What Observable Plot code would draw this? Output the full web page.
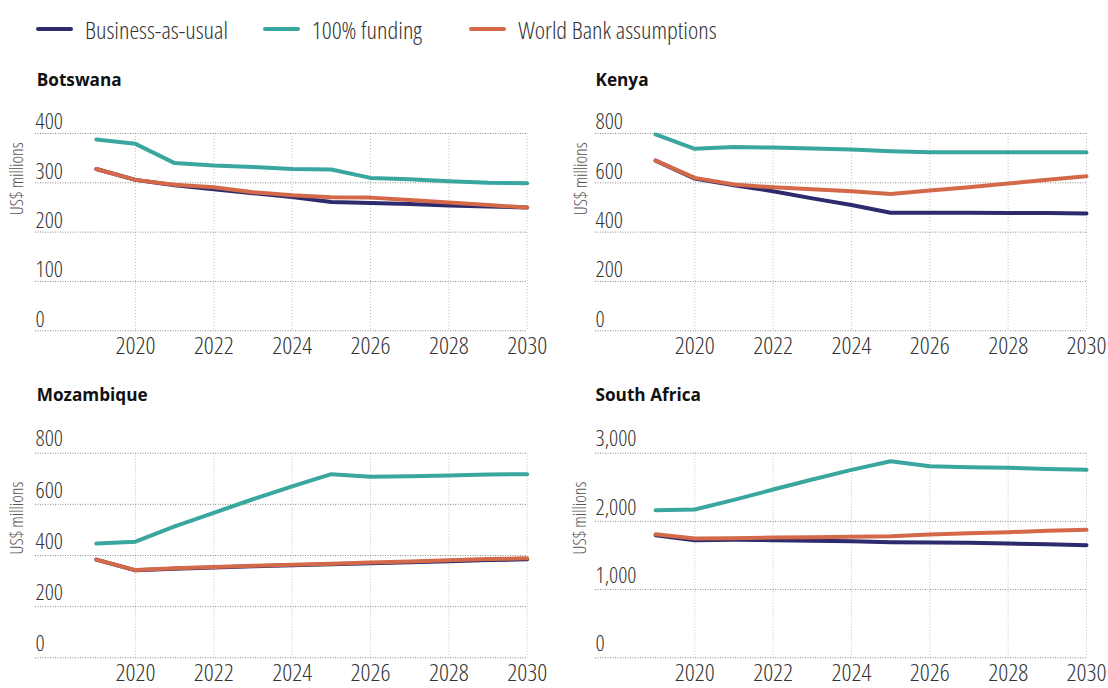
<!DOCTYPE html>
<html><head><meta charset="utf-8">
<script src="https://cdn.jsdelivr.net/npm/d3@7"></script>
<script src="https://cdn.jsdelivr.net/npm/@observablehq/plot@0.6"></script>
<style>
body{margin:0;background:#fff;font-family:"Open Sans",Roboto,sans-serif;width:1108px;height:688px;position:relative;overflow:hidden}
.item{position:absolute;top:16px;height:26px;display:flex;align-items:center;font-size:24.5px;font-stretch:75%;font-weight:300;color:#333;white-space:nowrap}
.sw{width:37px;height:4.5px;border-radius:2.5px;margin-right:12px}
.panel{position:absolute}
.panel svg text{font-stretch:75%;font-weight:300}
.title{position:absolute;font-weight:700;font-size:17.2px;line-height:20px;color:#111}
</style></head><body>
<script>
const years = [2019,2020,2021,2022,2023,2024,2025,2026,2027,2028,2029,2030];
const series = ["Business-as-usual","100% funding","World Bank assumptions"];
const colors = ["#2e2a6e","#3aa6a0","#d4694a"];
const countries = ["Botswana","Kenya","Mozambique","South Africa"];

const botswanaBAU     = [328,306,295,287,279,271,261,259,257,254,252,250];
const botswanaFull    = [388,379,340,335,332,328,327,310,307,303,300,299];
const botswanaWB      = [328,306,296,291,281,275,271,270,265,260,255,250];

const kenyaBAU        = [690,617,590,566,537,510,479,479,479,478,478,476];
const kenyaFull       = [796,738,745,743,739,735,728,724,724,724,724,724];
const kenyaWB         = [690,620,593,582,574,566,555,569,582,597,612,627];

const mozambiqueBAU   = [384,342,348,353,358,362,366,370,374,378,382,385];
const mozambiqueFull  = [447,454,514,567,620,670,718,708,710,713,717,718];
const mozambiqueWB    = [384,343,350,355,360,364,368,373,377,381,386,389];

const southAfricaBAU  = [1798,1725,1730,1725,1715,1710,1695,1690,1686,1676,1666,1651];
const southAfricaFull = [2164,2174,2316,2467,2614,2756,2883,2809,2795,2785,2770,2756];
const southAfricaWB   = [1813,1749,1754,1764,1769,1774,1783,1808,1827,1842,1862,1876];

const xTicks = [2020,2022,2024,2026,2028,2030];
const botswanaTicks = [0,100,200,300,400];
const kenyaTicks = [0,200,400,600,800];
const mozambiqueTicks = [0,200,400,600,800];
const southAfricaTicks = [0,1000,2000,3000];
const yLabel = "US$ millions";

// legend
const legendPos = [36,262.7,469.3];
series.forEach((s,i)=>{
  const it = document.createElement("div");
  it.className = "item";
  it.style.left = legendPos[i] + "px";
  it.innerHTML = `<span class="sw" style="background:${colors[i]}"></span><span>${s}</span>`;
  document.body.appendChild(it);
});

const panels = [
  {name:countries[0], vals:[botswanaBAU,botswanaFull,botswanaWB], ticks:botswanaTicks, left:0, top:100, h:260.3, ml:35, mr:27.3, mt:33, mb:30, inset:60.8, tTop:70, tLeft:36.7, lx:-18.3, ly:-17, tdy:-11.5},
  {name:countries[1], vals:[kenyaBAU,kenyaFull,kenyaWB], ticks:kenyaTicks, left:554, top:100, h:260.3, ml:41, mr:22, inset:60.1, mt:33, mb:30, tTop:70, tLeft:595.5, lx:-14.5, ly:-17, tdy:-11.5},
  {name:countries[2], vals:[mozambiqueBAU,mozambiqueFull,mozambiqueWB], ticks:mozambiqueTicks, left:0, top:420, h:268, ml:35, mr:27.3, mt:32.7, mb:30.7, inset:60.8, tTop:385, tLeft:36.7, lx:-18.3, ly:-1, tdy:-14},
  {name:countries[3], vals:[southAfricaBAU,southAfricaFull,southAfricaWB], ticks:southAfricaTicks, left:554, top:420, h:268, ml:41, mr:22, mt:32.7, mb:30.7, inset:60.1, tTop:385, tLeft:595.5, lx:-15, ly:-1, tdy:-14}
];

const fmt = d3.format(",");
panels.forEach(p=>{
  const rows = [];
  p.vals.forEach((arr,si)=>arr.forEach((v,i)=>rows.push({year:years[i], value:v, series:series[si]})));
  const yMax = p.ticks[p.ticks.length-1];
  const chart = Plot.plot({
    width:554, height:p.h,
    marginLeft:p.ml, marginRight:p.mr, marginTop:p.mt, marginBottom:p.mb,
    style:{fontFamily:"'Open Sans', Roboto, sans-serif", fontSize:"22px", color:"#333", background:"transparent", overflow:"visible"},
    x:{domain:[2019,2030], insetLeft:p.inset, axis:null},
    y:{domain:[0,yMax], axis:null},
    color:{domain:series, range:colors},
    marks:[
      Plot.ruleX(xTicks, {x:d=>d, stroke:"#c4c4c4", strokeWidth:1, strokeDasharray:"1,2"}),
      Plot.ruleY(p.ticks, {y:d=>d, stroke:"#8a8a8a", strokeWidth:1, strokeDasharray:"1,1.5"}),
      Plot.axisX(xTicks, {tickSize:0, tickPadding:6, tickFormat:d3.format("d"), label:null, fontSize:24.5, fill:"#333"}),
      Plot.text(p.ticks, {y:d=>d, text:d=>fmt(d), frameAnchor:"left", textAnchor:"start", dy:p.tdy, fontSize:22.5, fill:"#333"}),
      Plot.text([yLabel], {text:d=>d, frameAnchor:"left", rotate:-90, dx:p.lx, dy:p.ly, fontSize:18, fill:"#555"}),
      Plot.line(rows, {x:"year", y:"value", z:"series", stroke:"series", strokeWidth:4, strokeLinejoin:"round", strokeLinecap:"round"})
    ]
  });
  const wrap = document.createElement("div");
  wrap.className = "panel";
  wrap.style.left = p.left + "px";
  wrap.style.top = p.top + "px";
  wrap.appendChild(chart);
  document.body.appendChild(wrap);
  const t = document.createElement("div");
  t.className = "title";
  t.style.left = p.tLeft + "px";
  t.style.top = p.tTop + "px";
  t.textContent = p.name;
  document.body.appendChild(t);
});
</script>
</body></html>
